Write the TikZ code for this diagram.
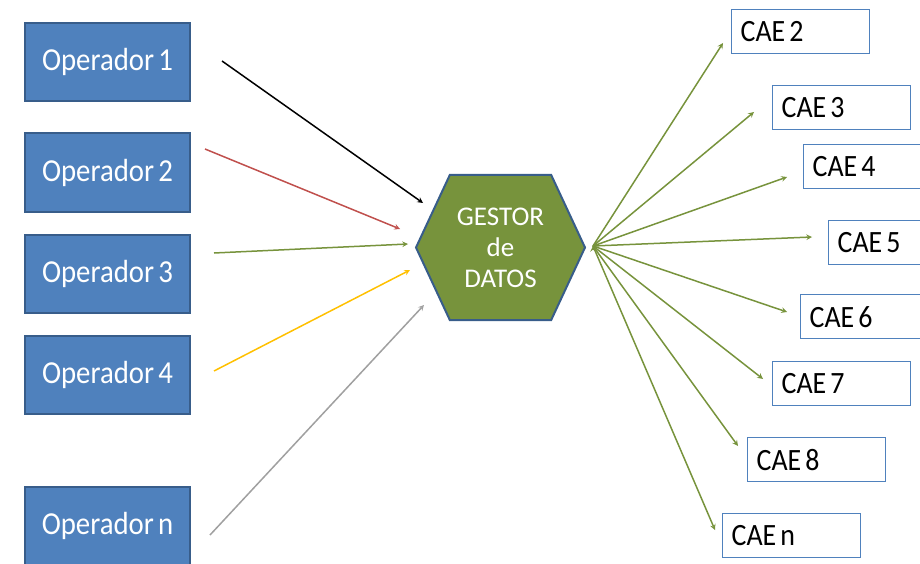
\documentclass[tikz,border=0pt]{standalone}
\usepackage{fontspec}
\setmainfont{Carlito}
\newfontfamily\cajafont{Carlito}[FakeStretch=0.9, WordSpace=0.65]
\newcommand{\rotulo}[1]{\makebox[120pt][l]{#1}} % texto alineado a la izquierda
\usetikzlibrary{shapes.symbols, positioning, arrows}
\definecolor{azul}{HTML}{4F81BD}
\definecolor{azuloscuro}{HTML}{385D8A}
\definecolor{verde}{HTML}{77933C}
\definecolor{rojo}{HTML}{C0504D}
\definecolor{amarillo}{HTML}{FFC000}
\definecolor{gris}{HTML}{A0A0A0}
\tikzset{
	>=stealth, % Punta de las flechas
	x=1pt, y=-1pt, % Coordenadas en pixeles, y hacia abajo
	operador/.style={draw=azuloscuro, line width=2pt, fill=azul, text=white, minimum width=165pt, minimum height=78pt, font=\cajafont\fontsize{32}{36}\selectfont}, % Cajas de la izquierda
	cae/.style={draw=azul, line width=1.3pt, anchor=north west, inner xsep=9pt, minimum height=44pt, font=\cajafont\fontsize{31}{35}\selectfont}, % Cajas de la derecha
	gestor/.style={signal, signal to=west and east, signal pointer angle=130, minimum width=169pt, minimum height=145pt, fill=verde, draw=azuloscuro, line width=2pt, text=white, align=center, font=\fontsize{27}{31}\selectfont}, % Hexagono central
	flecha/.style={->, line width=1.5pt} % Propiedades de los arcos
}

\begin{document}
\begin{tikzpicture}
	\useasboundingbox (0,0) rectangle (920,564);
	\node[operador] (op1) at (107.5,62) {Operador 1};
	\node[operador] (op2) at (107.5,172.5) {Operador 2};
	\node[operador] (op3) at (107.5,273.5) {Operador 3};
	\node[operador] (op4) at (107.5,374.5) {Operador 4};
	\node[operador] (opn) at (107.5,526) {Operador n};
	\node[gestor] (gd) at (500.5,247.5) {GESTOR\\de\\DATOS};
	\node[cae] (cae2) at (731,9) {\rotulo{CAE 2}};
	\node[cae] (cae3) at (772,85) {\rotulo{CAE 3}};
	\node[cae] (cae4) at (803,144) {\rotulo{CAE 4}};
	\node[cae] (cae5) at (828,220) {\rotulo{CAE 5}};
	\node[cae] (cae6) at (800,294) {\rotulo{CAE 6}};
	\node[cae] (cae7) at (772,361) {\rotulo{CAE 7}};
	\node[cae] (cae8) at (747,437) {\rotulo{CAE 8}};
	\node[cae] (caen) at (722,513) {\rotulo{CAE n}};
	% extremos de las flechas de entrada
	\coordinate (a1) at (222,61);  \coordinate (b1) at (423,203);
	\coordinate (a2) at (205,149); \coordinate (b2) at (400,229);
	\coordinate (a3) at (214,253); \coordinate (b3) at (408,244);
	\coordinate (a4) at (214,371); \coordinate (b4) at (410,270);
	\coordinate (a5) at (210,535); \coordinate (b5) at (424,305);
	% salida hacia los CAE
	\coordinate (hub) at (593,246);
	\coordinate (t2) at (723,43);  \coordinate (t3) at (754,112);
	\coordinate (t4) at (787,177); \coordinate (t5) at (812,237);
	\coordinate (t6) at (787,312); \coordinate (t7) at (763,379);
	\coordinate (t8) at (738,446); \coordinate (tn) at (715,530);
	\draw[flecha, black] (a1) -- (b1);
	\draw[flecha, rojo] (a2) -- (b2);
	\draw[flecha, verde] (a3) -- (b3);
	\draw[flecha, amarillo] (a4) -- (b4);
	\draw[flecha, gris] (a5) -- (b5);
	\draw[flecha, verde] (hub) edge (t2)
		(hub) edge (t3)
		(hub) edge (t4)
		(hub) edge (t5)
		(hub) edge (t6)
		(hub) edge (t7)
		(hub) edge (t8)
		(hub) edge (tn);
\end{tikzpicture}
\end{document}
